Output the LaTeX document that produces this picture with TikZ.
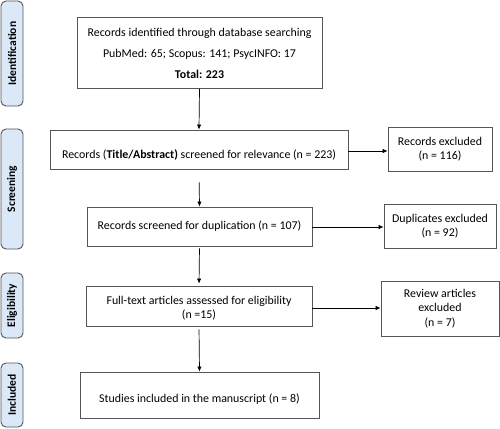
\documentclass[tikz,border=0pt]{standalone}
\usepackage{fontspec}
\setmainfont{Carlito}
\usetikzlibrary{arrows.meta}
\definecolor{sidefill}{HTML}{DAE8F8}
\definecolor{edgegray}{HTML}{555555}
\tikzset{
  sidebar/.style={draw=edgegray, fill=sidefill, rounded corners=5pt, line width=0.9pt, inner sep=0pt, rotate=90, font=\fontsize{11.5}{13}\selectfont\bfseries},
  box/.style={draw=edgegray, line width=0.9pt, inner sep=0pt, align=center, font=\fontsize{11.9}{14.5}\selectfont},
  txt/.style={inner sep=0pt, align=center, font=\fontsize{11.9}{14.5}\selectfont},
  arr/.style={-{Latex[length=5pt,width=4.5pt]}, line width=0.7pt, black}
}
\begin{document}
\begin{tikzpicture}[x=1pt,y=-1pt]
\useasboundingbox (0,0) rectangle (500,428);
% side bars
\node[sidebar, minimum width=105, minimum height=22] (sid) at (12,53.5) {Identification};
\node[sidebar, minimum width=120, minimum height=22] (sscr) at (12,189) {Screening};
\node[sidebar, minimum width=65, minimum height=22] (selig) at (12,305.5) {Eligibility};
\node[sidebar, minimum width=64, minimum height=22] (sinc) at (12,395) {Included};
% main boxes
\node[box, minimum width=245, minimum height=71, font=\fontsize{11.9}{21}\selectfont] (b1) at (199.5,53) {Records identified through database searching\\PubMed: 65; Scopus: 141; PsycINFO: 17\\\textbf{Total: 223}};
\node[box, minimum width=298, minimum height=39] (b2) at (199,149.5) {};
\node[txt] (b2t) at (199,155) {Records (\textbf{Title/Abstract)} screened for relevance (n = 223)};
\node[box, minimum width=225, minimum height=39] (b3) at (199.5,226.5) {Records screened for duplication (n = 107)};
\node[box, minimum width=226, minimum height=40] (b4) at (199,306) {};
\node[txt] (b4t) at (199,308) {Full-text articles assessed for eligibility\\(n =15)};
\node[box, minimum width=239, minimum height=46] (b5) at (199.5,395) {};
\node[txt] (b5t) at (199.5,399) {Studies included in the manuscript (n = 8)};
% right boxes
\node[box, minimum width=104, minimum height=44] (r1) at (440,149) {Records excluded\\(n = 116)};
\node[box, minimum width=112, minimum height=44] (r2) at (440,226) {Duplicates excluded\\(n = 92)};
\node[box, minimum width=118, minimum height=55] (r3) at (440,308.5) {Review articles\\excluded\\(n = 7)};
% arrows
\draw[arr] (b1.south) -- (b2.north);
\draw[arr, shorten <=13pt] (b2.south) -- (b3.north);
\draw[arr, shorten <=2pt, shorten >=2pt] (b3.south) -- (b4.north);
\draw[arr, shorten <=3pt] (b4.south) -- (b5.north);
\draw[arr] ([yshift=-1.5pt]b2.east) -- ([yshift=-1.5pt]b2.east -| r1.west);
\draw[arr] ([yshift=-0.5pt]b3.east) -- ([yshift=-0.5pt]b3.east -| r2.west);
\draw[arr] ([yshift=-2pt]b4.east) -- ([yshift=-2pt]b4.east -| r3.west);
\end{tikzpicture}
\end{document}
